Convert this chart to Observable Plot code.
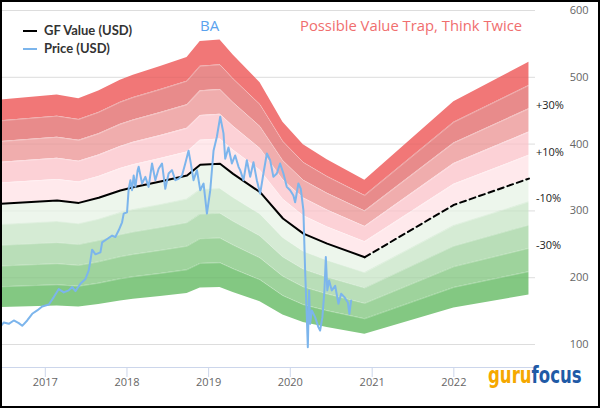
<!DOCTYPE html>
<html><head><meta charset="utf-8">
<script src="https://cdn.jsdelivr.net/npm/d3@7"></script>
<script src="https://cdn.jsdelivr.net/npm/@observablehq/plot@0.6"></script>
<style>
body{margin:0;background:#fff;}
#wrap{position:relative;width:600px;height:408px;font-family:"Open Sans",sans-serif;overflow:hidden;}
#chart{position:absolute;left:0;top:0;}
#frame{position:absolute;left:0;top:0;width:600px;height:408px;box-sizing:border-box;border:2px solid #000;pointer-events:none;}
.leg{position:absolute;left:23px;height:14px;line-height:14px;font:bold 13px Lato,"Open Sans",sans-serif;color:#333;white-space:nowrap;}
.leg .sw{display:inline-block;width:14px;height:2px;vertical-align:middle;margin-right:7px;position:relative;top:-1px;}
#ticker{position:absolute;left:200px;top:16px;font-size:15px;line-height:18px;color:#5aa2ee;}
#title{position:absolute;left:300px;top:16px;font-size:14.8px;line-height:18px;color:#f06e6e;white-space:nowrap;}
#logo{position:absolute;left:488px;top:363px;display:inline-block;white-space:nowrap;font-family:"DejaVu Sans Condensed","DejaVu Sans",sans-serif;font-stretch:condensed;font-weight:bold;font-size:23px;line-height:24px;transform:scaleX(0.8);transform-origin:0 0;}
</style></head>
<body>
<div id="wrap">
  <div id="chart"></div>
  <div class="leg" style="top:22px"><span class="sw" style="background:#000"></span>GF Value (USD)</div>
  <div class="leg" style="top:40px"><span class="sw" style="background:#7cb5ec"></span>Price (USD)</div>
  <div id="ticker">BA</div>
  <div id="title">Possible Value Trap, Think Twice</div>
  <div id="logo"><span style="color:#f5a800">guru</span><span style="color:#1f5aa6">focus</span></div>
  <div id="frame"></div>
</div>
<script>
// ---- data (decimal years, USD) ----
const gfYears  = [2016.46, 2017.145, 2017.41, 2017.654, 2017.919, 2018.078, 2018.41, 2018.736, 2018.897, 2019.14, 2019.3, 2019.63, 2019.91, 2020.16, 2020.45, 2020.91];
const gfValues = [310.6, 315.6, 312, 319.6, 330.5, 335.5, 344, 353, 369, 370.5, 355.5, 328, 288.6, 266, 251, 230.7];
const gfFutureYears  = [2020.91, 2022.0, 2022.92];
const gfFutureValues = [230.7, 309, 348.4];

const priceYears = [2016.46,2016.493,2016.554,2016.615,2016.676,2016.718,2016.779,2016.840,2016.901,2016.962,2017.043,2017.104,2017.165,2017.226,2017.287,2017.329,2017.369,2017.430,2017.491,2017.532,2017.553,2017.573,2017.614,2017.675,2017.696,2017.757,2017.818,2017.858,2017.899,2017.940,2017.960,2018.001,2018.021,2018.042,2018.062,2018.082,2018.103,2018.131,2018.143,2018.185,2018.225,2018.265,2018.307,2018.347,2018.388,2018.429,2018.469,2018.510,2018.551,2018.592,2018.632,2018.674,2018.714,2018.754,2018.775,2018.815,2018.857,2018.897,2018.938,2018.979,2019.020,2019.060,2019.101,2019.142,2019.182,2019.203,2019.243,2019.285,2019.325,2019.366,2019.386,2019.427,2019.468,2019.509,2019.549,2019.590,2019.631,2019.671,2019.713,2019.753,2019.793,2019.835,2019.875,2019.916,2019.957,2019.998,2020.038,2020.059,2020.099,2020.128,2020.160,2020.181,2020.202,2020.214,2020.230,2020.242,2020.263,2020.303,2020.343,2020.364,2020.392,2020.417,2020.434,2020.452,2020.474,2020.507,2020.548,2020.588,2020.621,2020.661,2020.703,2020.722,2020.743];
const priceValues = [128,133,131,136,132,128,136,146,151,157,160,171,183,178,181,186,180,191,198,211,226,242,235,238,253,258,263,261,271,283,296,298,333,346,331,353,336,361,366,341,351,336,371,346,363,371,333,356,361,346,348,353,371,390,376,346,361,331,341,296,331,390,411,441,416,378,395,371,383,366,361,346,376,351,373,346,326,356,386,376,351,356,371,356,336,331,323,313,341,333,301,211,141,96,181,131,151,141,126,121,141,181,231,181,196,181,188,161,176,171,163,146,166];

const bandFactors = [1.5, 1.4, 1.3, 1.2, 1.1, 1.0, 0.9, 0.8, 0.7, 0.6, 0.5];
const bandColors  = ["#f17777", "#e88b8b", "#f0adad", "#fcd1d6", "#ffe9ec", "#edf6ec", "#d5ebd4", "#b9deb8", "#9ed39c", "#83c882"];
const bandLabelTexts   = ["+30%", "+10%", "-10%", "-30%"];
const bandLabelFactors = [1.3, 1.1, 0.9, 0.7];
const yTickValues = [100, 200, 300, 400, 500, 600];
const xTickYears  = [2017, 2018, 2019, 2020, 2021, 2022];

// ---- build ----
const toDate = y => { const yr = Math.floor(y); const a = Date.UTC(yr,0,1), b = Date.UTC(yr+1,0,1); return new Date(a + (y-yr)*(b-a)); };
const gfSolid  = gfYears.map((y,i) => ({date: toDate(y), v: gfValues[i]}));
const gfFuture = gfFutureYears.map((y,i) => ({date: toDate(y), v: gfFutureValues[i]}));
const gfAll = gfSolid.concat(gfFuture.slice(1));
const price = priceYears.map((y,i) => ({date: toDate(y), v: priceValues[i]}));
const last = gfAll[gfAll.length-1];
const labels = bandLabelTexts.map((t,i) => ({date: last.date, v: last.v*bandLabelFactors[i], t}));

const xStart = toDate(2016.465), xEnd = toDate(2023.0);
const yMin = 65.6;

const marks = [];
marks.push(Plot.ruleY(yTickValues, {x1: xStart, x2: xEnd, stroke: "#e6e6e6"}));
bandColors.forEach((c,i) => {
  marks.push(Plot.areaY(gfAll, {x: "date", y1: d => d.v*bandFactors[i+1], y2: d => d.v*bandFactors[i], fill: c}));
});
bandFactors.forEach(f => {
  if (f !== 1.0 && f !== 1.5 && f !== 0.5) marks.push(Plot.line(gfAll, {x: "date", y: d => d.v*f, stroke: "#fff", strokeOpacity: 0.35, strokeWidth: 0.8}));
});
marks.push(Plot.ruleY(yTickValues, {x1: xStart, x2: xEnd, stroke: "#000", strokeOpacity: 0.04}));
marks.push(Plot.ruleY([yMin], {x1: xStart, x2: xEnd, stroke: "#ccd6eb"}));
marks.push(Plot.axisX({ticks: xTickYears.map(toDate), tickFormat: d3.utcFormat("%Y"), tickSize: 10, tickPadding: 1, stroke: "#ccd6eb", fill: "#666", fontSize: 11, label: null}));
marks.push(Plot.axisY(yTickValues, {anchor: "right", tickSize: 0, tickPadding: 0, textAnchor: "end", dx: 53, fill: "#666", fontSize: 11, label: null}));
marks.push(Plot.line(gfSolid, {x: "date", y: "v", stroke: "#000", strokeWidth: 2}));
marks.push(Plot.line(gfFuture, {x: "date", y: "v", stroke: "#000", strokeWidth: 2, strokeDasharray: "6,4"}));
marks.push(Plot.line(price, {x: "date", y: "v", stroke: "#7cb5ec", strokeWidth: 2}));
marks.push(Plot.text(labels, {x: "date", y: "v", text: "t", dx: 7, dy: -3, textAnchor: "start", fontSize: 11, fill: "#222"}));

const chart = Plot.plot({
  width: 600, height: 400,
  marginLeft: 1, marginRight: 65, marginTop: 10, marginBottom: 33,
  style: {fontFamily: "'Open Sans', sans-serif", fontSize: "11px", background: "transparent"},
  x: {type: "utc", domain: [xStart, xEnd]},
  y: {type: "linear", domain: [yMin, 600]},
  marks
});
document.getElementById("chart").appendChild(chart);
</script>
</body></html>
